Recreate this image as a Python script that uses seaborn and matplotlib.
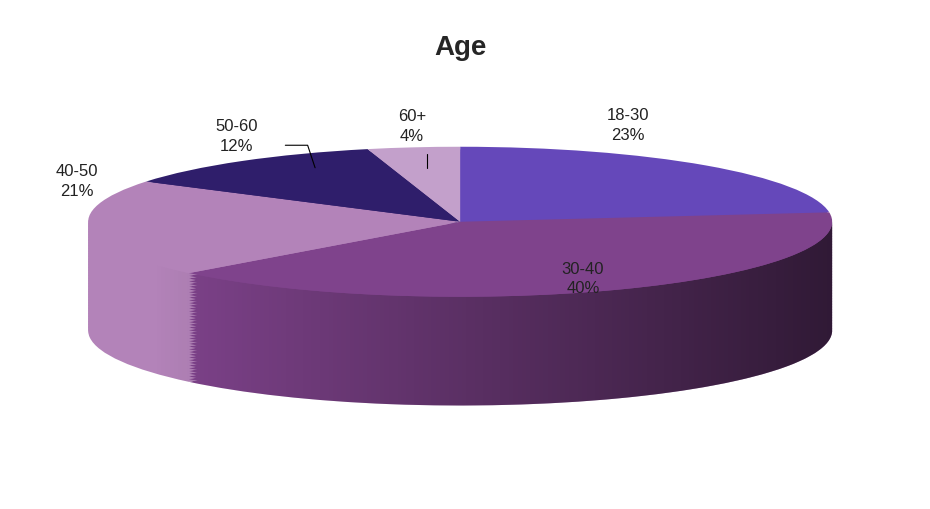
import numpy as np
import matplotlib.pyplot as plt
import seaborn as sns
from matplotlib.path import Path
from matplotlib.patches import PathPatch
import matplotlib.colors as mcolors

sns.set_theme(style="white")
plt.rcParams["font.family"] = "Liberation Sans"

categories = ["18-30", "30-40", "40-50", "50-60", "60+"]
shares = [23, 40, 21, 12, 4]
colors = ["#6548BA", "#7F438C", "#B383B9", "#2F1E6B", "#C3A0CB"]

fig = plt.figure(figsize=(9.3, 5.1), dpi=100)
ax = fig.add_axes([0, 0, 1, 1])
ax.set_aspect("auto")
ax.set_xlim(-1.237, 1.263)
ax.set_ylim(-3.83, 2.97)
ax.axis("off")

depth = 1.45
# side walls: stacked copies of the pie moving downward
n = 40
for i in range(n):
    dy = -depth * (1 - i / n)
    ax.pie(shares, colors=colors, startangle=90, counterclock=False,
           center=(0, dy), radius=1, wedgeprops=dict(linewidth=0))

# gradient shading over the front side wall
t = np.linspace(np.pi, 2 * np.pi, 200)
top = np.column_stack([np.cos(t), np.sin(t)])
bot = np.column_stack([np.cos(t[::-1]), np.sin(t[::-1]) - depth])
side = PathPatch(Path(np.vstack([top, bot, top[:1]])), facecolor="none", edgecolor="none")
ax.add_patch(side)
grad = np.linspace(-1, 1, 300)
alpha = np.clip((grad + 0.83) / 1.83, 0, 1) * 0.62
rgba = np.zeros((1, 300, 4))
rgba[..., 3] = alpha
img = ax.imshow(rgba, extent=(-1, 1, -depth - 1, 0), aspect="auto", zorder=3)
img.set_clip_path(side)

# top face
wedges, _ = ax.pie(shares, colors=colors, startangle=90, counterclock=False,
                   radius=1, wedgeprops=dict(linewidth=0, zorder=4))
for w in wedges:
    w.set_zorder(4)

ax.set_xlim(-1.237, 1.263)
ax.set_ylim(-3.83, 2.97)
ax.set_aspect("auto")

# labels
label_pos = {"18-30": (0.45, 1.3), "30-40": (0.33, -0.75), "40-50": (-1.03, 0.55),
             "50-60": (-0.6, 1.15), "60+": (-0.13, 1.28)}
for cat, s in zip(categories, shares):
    x, y = label_pos[cat]
    ax.text(x, y, f"{cat}\n{s}%", ha="center", va="center", fontsize=12,
            linespacing=1.4, color="#222222", zorder=6)
ax.plot([-0.47, -0.41, -0.39], [1.02, 1.02, 0.72], color="black", lw=0.8, zorder=6)
ax.plot([-0.09, -0.09], [0.9, 0.72], color="black", lw=0.8, zorder=6)

fig.text(0.495, 0.905, "Age", ha="center", va="center", fontsize=20, fontweight="bold")
fig.savefig("out.png", dpi=100)
